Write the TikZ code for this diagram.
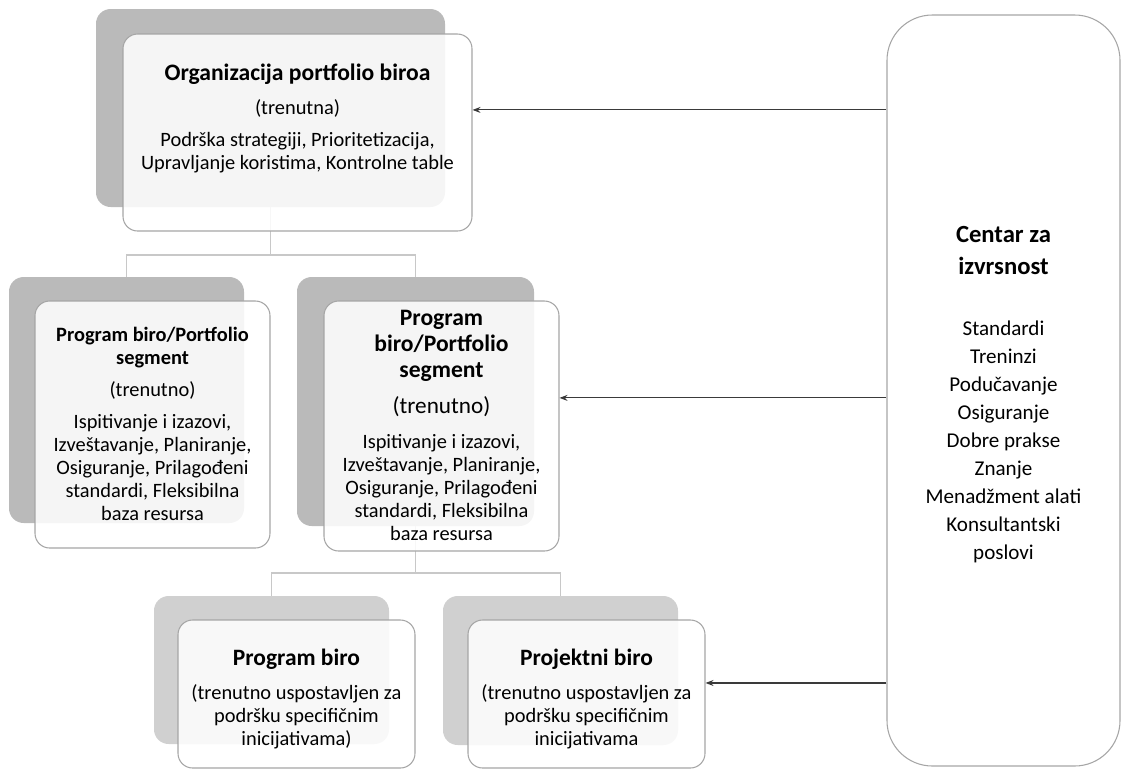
\documentclass[tikz,border=0pt]{standalone}
\usepackage{fontspec}
\setmainfont{Carlito}
\usetikzlibrary{positioning,fit,calc,arrows.meta}
\definecolor{shadegray}{HTML}{BABABA}
\definecolor{shadelight}{HTML}{D0D0D0}
\definecolor{edgegray}{HTML}{A6A6A6}
\definecolor{linkgray}{HTML}{C8C8C8}
\definecolor{arrowgray}{HTML}{3A3A3A}
\begin{document}
\begin{tikzpicture}[x=0.75pt,y=-0.75pt,
    backbox/.style={fill=shadegray,rounded corners=11pt,inner sep=0pt},
    card/.style={draw=edgegray,line width=0.8pt,fill=white,fill opacity=0.86,rounded corners=11pt,inner sep=0pt},
    link/.style={draw=linkgray,line width=1.2pt},
    feed/.style={draw=arrowgray,line width=0.8pt,-{Stealth[length=6pt,width=4.5pt]}},
    boxtext/.style={align=center,anchor=north,inner sep=0pt,font=\fontsize{15.3}{17.25}\selectfont}]
\useasboundingbox (0,0) rectangle (1122,769);

% grey blocks behind the cards
\node[backbox,fit={(96,9) (445,207)}] (orgsh) {};
\node[backbox,fit={(9,277) (244,523)}] (seg1sh) {};
\node[backbox,fit={(297,277) (534,526)}] (seg2sh) {};
\node[backbox,fill=shadelight,fit={(154,596) (389,744)}] (progsh) {};
\node[backbox,fill=shadelight,fit={(443,596) (678,745)}] (projsh) {};

% tree lines
\coordinate (j1) at ($(orgsh.south)+(0,48)$);
\coordinate (j2) at ($(seg2sh.south)+(0,47)$);
\draw[link] (orgsh.south) -- (j1) -| (seg1sh.north);
\draw[link] (j1) -| (seg2sh.north);
\draw[link] (seg2sh.south) -- (j2) -| (progsh.north);
\draw[link] (j2) -| (projsh.north);

% white cards
\node[card,fit={(123,34) (472,231)}] (orgbox) {};
\node[card,fit={(35,301) (270,548)}] (seg1box) {};
\node[card,fit={(324,301) (559,551)}] (seg2box) {};
\node[card,fit={(178,620) (415,768)}] (progbox) {};
\node[card,fit={(468,620) (705,768)}] (projbox) {};
\node[card,fill opacity=1,rounded corners=34pt,fit={(887,15) (1120,766)}] (coe) {};

% texts
\node[boxtext] (orgtxt) at (297.5,64) {{\bfseries\fontsize{17.7}{17.25}\selectfont Organizacija portfolio biroa}\\[8pt]
    (trenutna)\\[7pt]
    Podrška strategiji, Prioritetizacija,\\
    Upravljanje koristima, Kontrolne table};
\node[boxtext] (seg1txt) at (152.5,327) {{\bfseries Program biro/Portfolio}\\
    {\bfseries segment}\\[6.75pt]
    (trenutno)\\[6.75pt]
    Ispitivanje i izazovi,\\
    Izveštavanje, Planiranje,\\
    Osiguranje, Prilagođeni\\
    standardi, Fleksibilna\\
    baza resursa};
\node[boxtext] (seg2txt) at (441.5,310) {{\bfseries\fontsize{17.7}{17.25}\selectfont Program}\\[2.25pt]
    {\bfseries\fontsize{17.7}{17.25}\selectfont biro/Portfolio}\\[2.25pt]
    {\bfseries\fontsize{17.7}{17.25}\selectfont segment}\\[9.75pt]
    {\fontsize{17.4}{17.25}\selectfont (trenutno)}\\[9pt]
    Ispitivanje i izazovi,\\
    Izveštavanje, Planiranje,\\
    Osiguranje, Prilagođeni\\
    standardi, Fleksibilna\\
    baza resursa};
\node[boxtext] (progtxt) at (296.5,649) {{\bfseries\fontsize{17.6}{17.25}\selectfont Program biro}\\[8.25pt]
    (trenutno uspostavljen za\\
    podršku specifičnim\\
    inicijativama)};
\node[boxtext] (projtxt) at (586.5,649) {{\bfseries\fontsize{17.6}{17.25}\selectfont Projektni biro}\\[8.25pt]
    (trenutno uspostavljen za\\
    podršku specifičnim\\
    inicijativama};
\node[boxtext,font=\fontsize{15.8}{21}\selectfont] (coetxt) at (1003.5,226) {{\bfseries\fontsize{18.5}{21}\selectfont Centar za}\\[3pt]
    {\bfseries\fontsize{18.5}{21}\selectfont izvrsnost}\\[24.75pt]
    Standardi\\ Treninzi\\ Podučavanje\\ Osiguranje\\ Dobre prakse\\
    Znanje\\ Menadžment alati\\ Konsultantski\\ poslovi};

% arrows from the centre
\coordinate (a1) at ($(orgbox.north east)!0.386!(orgbox.south east)$);
\coordinate (a2) at ($(seg2box.north east)!0.388!(seg2box.south east)$);
\coordinate (a3) at ($(projbox.north east)!0.426!(projbox.south east)$);
\draw[feed] (coe.west |- a1) -- (a1);
\draw[feed] (coe.west |- a2) -- (a2);
\draw[feed] (coe.west |- a3) -- (a3);
\end{tikzpicture}
\end{document}
